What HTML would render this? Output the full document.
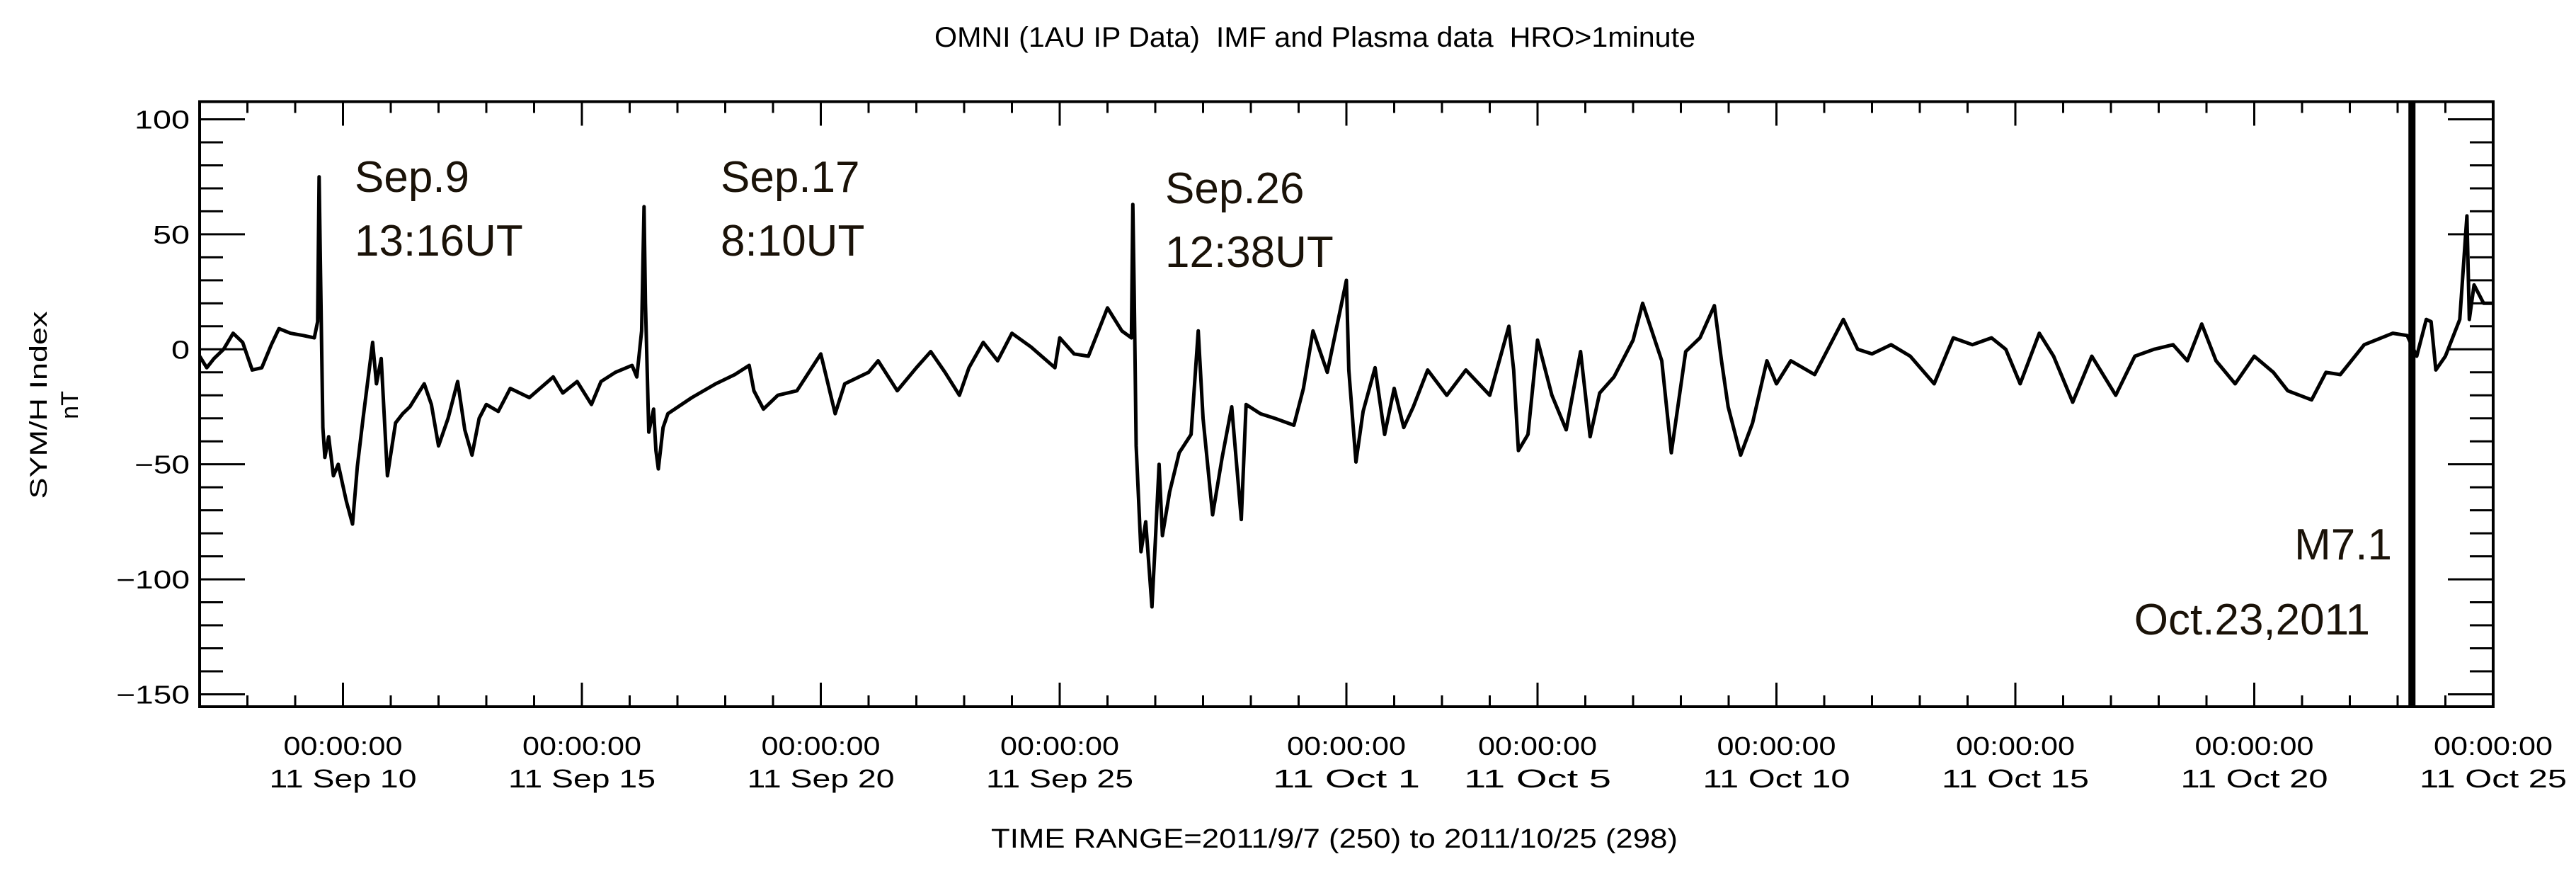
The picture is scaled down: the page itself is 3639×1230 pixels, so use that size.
<!DOCTYPE html>
<html><head><meta charset="utf-8"><style>
html,body{margin:0;padding:0;background:#fff;}
svg{display:block;}
text{font-family:"Liberation Sans",sans-serif;fill:#000;}
.ann{font-family:"Liberation Sans",sans-serif;fill:#1a1208;font-size:62px;}
</style></head><body>
<svg id="chart" width="3639" height="1230" viewBox="0 0 3639 1230" xmlns="http://www.w3.org/2000/svg">
<rect width="3639" height="1230" fill="#fff"/>
<text x="1320" y="66" font-size="40" textLength="1075" lengthAdjust="spacingAndGlyphs" xml:space="preserve">OMNI (1AU IP Data)  IMF and Plasma data  HRO&gt;1minute</text>
<text transform="translate(66,572) rotate(-90)" text-anchor="middle" font-size="34" textLength="265" lengthAdjust="spacingAndGlyphs">SYM/H Index</text>
<text transform="translate(110,572) rotate(-90)" text-anchor="middle" font-size="34">nT</text>
<text x="1400" y="1197" font-size="38" textLength="970" lengthAdjust="spacingAndGlyphs">TIME RANGE=2011/9/7 (250) to 2011/10/25 (298)</text>
<g id="axes"></g>
<g id="series"></g>
<rect id="flare" y="143" height="856" width="10" fill="#000"/>
<text class="ann" x="501" y="271">Sep.9</text>
<text class="ann" x="501" y="361">13:16UT</text>
<text class="ann" x="1018" y="271">Sep.17</text>
<text class="ann" x="1018" y="361">8:10UT</text>
<text class="ann" x="1646" y="287">Sep.26</text>
<text class="ann" x="1646" y="377">12:38UT</text>
<text class="ann" x="3379" y="790" text-anchor="end">M7.1</text>
<text class="ann" x="3348" y="896" text-anchor="end">Oct.23,2011</text>
</svg>
<script>
// data: days since 2011-09-07 00:00 UT, SYM/H values (nT)
const days = [0,0.15,0.3,0.5,0.7,0.9,1.1,1.3,1.5,1.66,1.9,2.17,2.4,2.47,2.5,2.53,2.58,2.62,2.7,2.8,2.9,3.07,3.2,3.3,3.42,3.62,3.7,3.8,3.93,4.1,4.25,4.4,4.55,4.7,4.85,5.0,5.2,5.4,5.55,5.7,5.85,6.0,6.25,6.5,6.9,7.4,7.6,7.9,8.2,8.4,8.7,9.05,9.15,9.25,9.3,9.33,9.4,9.5,9.55,9.6,9.7,9.8,10.3,10.8,11.2,11.5,11.6,11.8,12.1,12.5,13.0,13.3,13.5,14.0,14.2,14.6,15.0,15.3,15.6,15.9,16.1,16.4,16.7,17.0,17.4,17.9,18.0,18.3,18.6,19.0,19.3,19.5,19.53,19.56,19.6,19.7,19.8,19.93,20.0,20.08,20.15,20.3,20.5,20.75,20.9,21.0,21.2,21.4,21.6,21.8,21.9,22.2,22.5,22.9,23.1,23.3,23.6,24.0,24.05,24.2,24.35,24.6,24.8,25.0,25.2,25.4,25.7,26.1,26.5,27.0,27.4,27.5,27.6,27.8,28.0,28.3,28.6,28.9,29.1,29.3,29.6,30.0,30.2,30.6,30.8,31.1,31.4,31.7,31.85,31.99,32.25,32.5,32.8,33.0,33.3,33.8,34.4,34.7,35.0,35.4,35.8,36.3,36.7,37.1,37.5,37.8,38.1,38.5,38.8,39.2,39.6,40.1,40.5,40.9,41.3,41.6,41.9,42.2,42.6,43.0,43.4,43.7,44.2,44.5,44.8,45.3,45.9,46.2,46.4,46.6,46.7,46.8,47.0,47.3,47.45,47.5,47.6,47.8,48.0];
const values = [-3,-8,-4,0,7,3,-9,-8,2,9,7,6,5,12,75,33,-34,-47,-38,-55,-50,-66,-76,-51,-30,3,-15,-4,-55,-32,-28,-25,-20,-15,-24,-42,-30,-14,-35,-46,-30,-24,-27,-17,-21,-12,-19,-14,-24,-14,-10,-7,-12,8,62,20,-36,-26,-44,-52,-34,-28,-21,-15,-11,-7,-18,-26,-20,-18,-2,-28,-15,-10,-5,-18,-8,-1,-10,-20,-8,3,-5,7,1,-8,5,-2,-3,18,8,5,63,23,-42,-88,-75,-112,-84,-50,-81,-62,-45,-37,8,-30,-72,-47,-25,-74,-24,-28,-30,-33,-17,8,-10,30,-9,-49,-27,-8,-37,-17,-34,-25,-9,-20,-9,-20,10,-9,-44,-37,4,-20,-35,-1,-38,-19,-12,4,20,-5,-45,-1,5,19,-5,-25,-46,-32,-5,-15,-5,-11,13,0,-2,2,-3,-15,5,2,5,0,-15,7,-3,-23,-3,-20,-3,0,2,-5,11,-5,-15,-3,-10,-18,-22,-10,-11,2,7,6,-3,13,12,-9,-3,13,58,13,28,20,20];
const yTickMajor = [100,50,0,-50,-100,-150];
const xTickDays = [3,8,13,18,24,28,33,38,43,48];
const xTickDates = ["11 Sep 10","11 Sep 15","11 Sep 20","11 Sep 25","11 Oct  1","11 Oct  5","11 Oct 10","11 Oct 15","11 Oct 20","11 Oct 25"];
const flareDay = [46.3];

const NS="http://www.w3.org/2000/svg";
const L=282,R=3522,T=143.5,B=998,D0=0,D1=48,V0=-155.4,V1=107.7;
function xs(d){return L+(d-D0)/(D1-D0)*(R-L);}
function ys(v){return B-(v-V0)/(V1-V0)*(B-T);}
function mk(tag,attrs,parent){const e=document.createElementNS(NS,tag);for(const k in attrs)e.setAttribute(k,attrs[k]);parent.appendChild(e);return e;}
const ax=document.getElementById('axes');
const frame=mk('rect',{x:L,y:T,width:R-L,height:B-T,fill:'none',stroke:'#000','stroke-width':4},ax);


for(let d=0;d<=48;d++){
  const major=xTickDays.includes(d);const len=major?34:16;const x=xs(d);
  const t1=mk('line',{x1:x,x2:x,y1:B,y2:B-len,stroke:'#000','stroke-width':3},ax);
  
  
  const t2=mk('line',{x1:x,x2:x,y1:T,y2:T+len,stroke:'#000','stroke-width':3},ax);
  
  
}
xTickDays.forEach((d,i)=>{
  const x=xs(d);
  const a=mk('text',{x:x,y:1066,'text-anchor':'middle','font-size':36,textLength:168,lengthAdjust:'spacingAndGlyphs'},ax);
  a.textContent="00:00:00";
  
  
  const b=mk('text',{x:x,y:1112,'text-anchor':'middle','font-size':36,textLength:208,lengthAdjust:'spacingAndGlyphs','xml:space':'preserve'},ax);
  b.textContent=xTickDates[i];
  
  
});
for(let v=-150;v<=100;v+=10){
  const major=(v%50===0);const len=major?64:33;const y=ys(v);
  const t1=mk('line',{x1:L,x2:L+len,y1:y,y2:y,stroke:'#000','stroke-width':3},ax);
  
  
  const t2=mk('line',{x1:R,x2:R-len,y1:y,y2:y,stroke:'#000','stroke-width':3},ax);
  
  
}
yTickMajor.forEach(v=>{
  const s=(v<0?"\u2212":"")+Math.abs(v);
  const t=mk('text',{x:268,y:ys(v)+13,'text-anchor':'end','font-size':36,textLength:s.length*26,lengthAdjust:'spacingAndGlyphs'},ax);
  t.textContent=s;
  
  
});
let dpath="";
for(let i=0;i<days.length;i++){
  const x=xs(days[i]).toFixed(1),y=ys(values[i]).toFixed(1);
  dpath+=(i===0?"M":" L")+x+" "+y;
}
const line=mk('path',{d:dpath,fill:'none',stroke:'#000','stroke-width':5,'stroke-linejoin':'round'},document.getElementById('series'));


document.getElementById('flare').setAttribute('x',xs(flareDay[0])-5);
</script>
</body></html>
